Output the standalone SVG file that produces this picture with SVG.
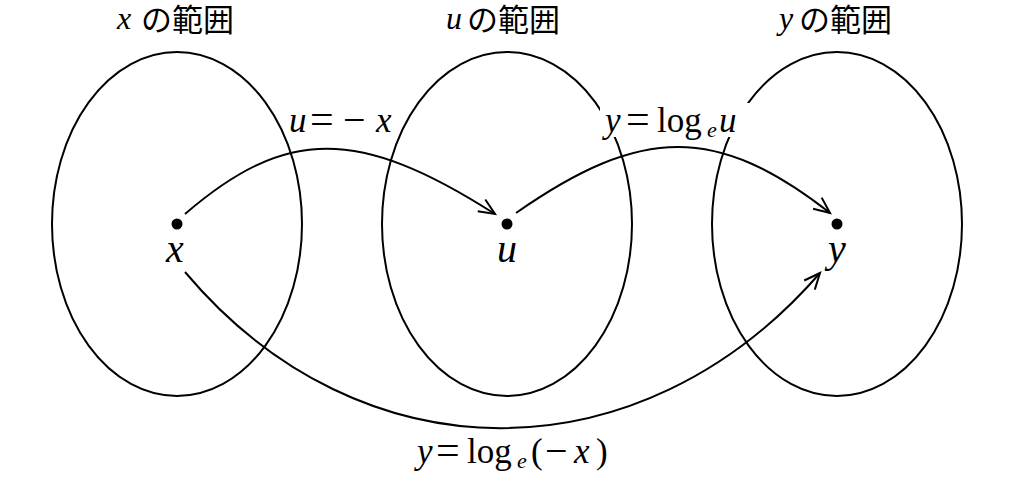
<svg xmlns="http://www.w3.org/2000/svg" width="1026" height="481" viewBox="0 0 1026 481">
<style>
.ring{fill:none;stroke:#000;stroke-width:2}
.arc{fill:none;stroke:#000;stroke-width:2}
.dot{fill:#000}
.bg{fill:#fff}
.jp{font-family:"Noto Sans CJK JP",sans-serif;font-size:31px}
</style>
<defs>
<marker id="ah" markerUnits="userSpaceOnUse" markerWidth="40" markerHeight="40" viewBox="-20 -20 40 40" refX="0" refY="0" orient="auto">
<path d="M-16,-7 L0,0 L-16,7" fill="none" stroke="#000" stroke-width="2"/>
</marker>
</defs>
<rect width="1026" height="481" fill="#fff"/>
<g id="range-x">
<ellipse class="ring" cx="177" cy="224" rx="125" ry="172"/>
<text x="117" y="29" font-family="Liberation Serif, serif" font-style="italic" font-size="32">x</text>
<text class="jp" x="141" y="31">の範囲</text>
</g>
<g id="range-u">
<ellipse class="ring" cx="507" cy="224" rx="125" ry="172"/>
<text x="446" y="29" font-family="Liberation Serif, serif" font-style="italic" font-size="32">u</text>
<text class="jp" x="467" y="31">の範囲</text>
</g>
<g id="range-y">
<ellipse class="ring" cx="837" cy="224" rx="125" ry="172"/>
<text x="779" y="29" font-family="Liberation Serif, serif" font-style="italic" font-size="32">y</text>
<text class="jp" x="799" y="31">の範囲</text>
</g>
<g id="connectors">
<path class="arc" d="M185,214 C286,127 359,127 495,214" marker-end="url(#ah)"/>
<path class="arc" d="M516,213 C642,125 717,125 830,213" marker-end="url(#ah)"/>
<path class="arc" d="M185,272 C360,480 640,480 820,273" marker-end="url(#ah)"/>
</g>
<g id="label-u-eq" font-family="Liberation Serif, serif">
<text x="289" y="132" font-size="35" font-style="italic">u</text>
<text x="310" y="133" font-size="42">=</text>
<text x="343" y="133" font-size="40">−</text>
<text x="376" y="132" font-size="35" font-style="italic">x</text>
</g>
<g id="label-y-log-u" font-family="Liberation Serif, serif">
<rect class="bg" x="600" y="103" width="150" height="34"/>
<text x="605" y="132" font-size="35" font-style="italic">y</text>
<text x="626" y="133" font-size="42">=</text>
<text x="657" y="132" font-size="35">log</text>
<text x="707" y="137" font-size="22" font-style="italic">e</text>
<text x="719" y="132" font-size="35" font-style="italic">u</text>
</g>
<g id="node-x">
<circle class="dot" cx="177" cy="224" r="5.5"/>
<text x="175" y="262" font-family="Liberation Serif, serif" font-style="italic" font-size="40" text-anchor="middle">x</text>
</g>
<g id="node-u">
<circle class="dot" cx="507" cy="224" r="5.5"/>
<text x="507" y="262" font-family="Liberation Serif, serif" font-style="italic" font-size="40" text-anchor="middle">u</text>
</g>
<g id="node-y">
<circle class="dot" cx="837" cy="224" r="5.5"/>
<text x="837" y="262" font-family="Liberation Serif, serif" font-style="italic" font-size="40" text-anchor="middle">y</text>
</g>
<g id="label-composite" font-family="Liberation Serif, serif">
<text x="417" y="463" font-size="35" font-style="italic">y</text>
<text x="436" y="464" font-size="42">=</text>
<text x="467" y="463" font-size="35">log</text>
<text x="517" y="468" font-size="22" font-style="italic">e</text>
<text x="531" y="463" font-size="35">(</text>
<text x="545" y="464" font-size="40">−</text>
<text x="574" y="463" font-size="35" font-style="italic">x</text>
<text x="596" y="463" font-size="35">)</text>
</g>
</svg>
